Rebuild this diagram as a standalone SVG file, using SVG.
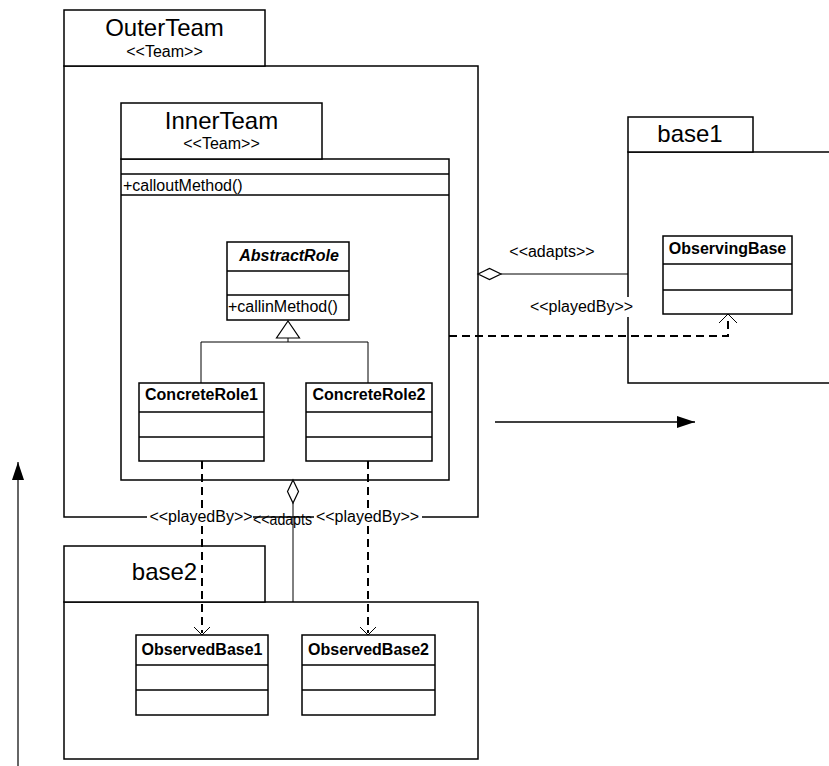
<svg xmlns="http://www.w3.org/2000/svg" width="829" height="766" viewBox="0 0 829 766">
  <style>
    .box { fill: #fff; stroke: #000; stroke-width: 1.5; }
    .sep { stroke: #000; stroke-width: 1.5; }
    .thin { fill: none; stroke: #000; stroke-width: 1; }
    .dash { fill: none; stroke: #000; stroke-width: 2; stroke-dasharray: 8 5; }
    .open { fill: none; stroke: #000; stroke-width: 1; }
    .bg { fill: #fff; }
    text { font-family: "Liberation Sans", Arial, sans-serif; fill: #000; }
    .title { font-size: 24px; text-anchor: middle; }
    .lbl { font-size: 16px; text-anchor: middle; }
    .op { font-size: 16px; }
    .cls { font-size: 16px; font-weight: bold; text-anchor: middle; }
    .abs { font-size: 16px; font-weight: bold; font-style: italic; text-anchor: middle; }
  </style>
  <defs>
    <marker id="solidHead" viewBox="0 0 18 12" refX="18" refY="6" markerWidth="18" markerHeight="12" markerUnits="userSpaceOnUse" orient="auto">
      <path d="M0,0 L18,6 L0,12 Z" fill="#000"/>
    </marker>
  </defs>

  <rect width="829" height="766" fill="#fff"/>

  <!-- OuterTeam package -->
  <g id="outerTeam">
    <rect class="box" x="64" y="66" width="414" height="451"/>
    <rect class="box" x="64" y="10" width="201" height="56"/>
    <text class="title" x="164.5" y="36">OuterTeam</text>
    <text class="lbl" x="164.5" y="57">&lt;&lt;Team&gt;&gt;</text>
  </g>

  <!-- InnerTeam package -->
  <g id="innerTeam">
    <rect class="box" x="121" y="159" width="328" height="321"/>
    <line class="sep" x1="121" y1="174" x2="449" y2="174"/>
    <line class="sep" x1="121" y1="195" x2="449" y2="195"/>
    <rect class="box" x="121" y="103" width="201" height="56"/>
    <text class="title" x="221.5" y="129">InnerTeam</text>
    <text class="lbl" x="221.5" y="149">&lt;&lt;Team&gt;&gt;</text>
    <text class="op" x="123" y="191">+calloutMethod()</text>
  </g>

  <!-- base1 package (continues past the right edge) -->
  <g id="base1">
    <rect class="box" x="628" y="152" width="230" height="231"/>
    <rect class="box" x="628" y="117" width="125" height="35"/>
    <text class="title" x="690" y="142">base1</text>
  </g>

  <!-- base2 package -->
  <g id="base2">
    <rect class="box" x="64" y="602" width="414" height="157"/>
    <rect class="box" x="64" y="546" width="201" height="56"/>
    <text class="title" x="164.5" y="580">base2</text>
  </g>

  <!-- classes -->
  <g id="abstractRole">
    <rect class="box" x="227" y="242" width="122" height="78"/>
    <line class="sep" x1="227" y1="271" x2="349" y2="271"/>
    <line class="sep" x1="227" y1="295" x2="349" y2="295"/>
    <text class="abs" x="289" y="261">AbstractRole</text>
    <text class="op" x="228" y="312">+callinMethod()</text>
  </g>

  <g id="concreteRole1">
    <rect class="box" x="139" y="383" width="125" height="78"/>
    <line class="sep" x1="139" y1="412" x2="264" y2="412"/>
    <line class="sep" x1="139" y1="437" x2="264" y2="437"/>
    <text class="cls" x="201.5" y="400">ConcreteRole1</text>
  </g>

  <g id="concreteRole2">
    <rect class="box" x="306" y="383" width="126" height="78"/>
    <line class="sep" x1="306" y1="412" x2="432" y2="412"/>
    <line class="sep" x1="306" y1="437" x2="432" y2="437"/>
    <text class="cls" x="369" y="400">ConcreteRole2</text>
  </g>

  <g id="observingBase">
    <rect class="box" x="663" y="236" width="129" height="78"/>
    <line class="sep" x1="663" y1="264" x2="792" y2="264"/>
    <line class="sep" x1="663" y1="290" x2="792" y2="290"/>
    <text class="cls" x="727.5" y="254">ObservingBase</text>
  </g>

  <g id="observedBase1">
    <rect class="box" x="136" y="635" width="132" height="80"/>
    <line class="sep" x1="136" y1="665" x2="268" y2="665"/>
    <line class="sep" x1="136" y1="690" x2="268" y2="690"/>
    <text class="cls" x="202" y="655">ObservedBase1</text>
  </g>

  <g id="observedBase2">
    <rect class="box" x="302" y="635" width="133" height="80"/>
    <line class="sep" x1="302" y1="665" x2="435" y2="665"/>
    <line class="sep" x1="302" y1="690" x2="435" y2="690"/>
    <text class="cls" x="368.5" y="655">ObservedBase2</text>
  </g>

  <!-- connectors -->
  <g id="connectors">
    <!-- generalization: ConcreteRole1/2 to AbstractRole -->
    <path class="thin" d="M201,383 V342 H368 V383"/>
    <line class="thin" x1="288" y1="342" x2="288" y2="338"/>
    <path d="M288,321 L299.5,338 L276.5,338 Z" fill="#fff" stroke="#000" stroke-width="1.2"/>

    <!-- adapts: OuterTeam to base1 -->
    <line class="thin" x1="501" y1="274" x2="628" y2="274"/>
    <path d="M478,274 L489.5,268.5 L501,274 L489.5,279.5 Z" fill="#fff" stroke="#000" stroke-width="1.2"/>
    <text class="lbl" x="552" y="257">&lt;&lt;adapts&gt;&gt;</text>

    <!-- playedBy: InnerTeam to ObservingBase -->
    <rect class="bg" x="527" y="297" width="108" height="20"/>
    <text class="lbl" x="581.5" y="312">&lt;&lt;playedBy&gt;&gt;</text>
    <path class="dash" d="M449,336 H728 V316"/>
    <path class="open" d="M719,323 L728,314 L737,323"/>

    <!-- adapts: InnerTeam to base2 -->
    <line class="thin" x1="293" y1="503" x2="293" y2="602"/>
    <path d="M293,480 L298.5,491.5 L293,503 L287.5,491.5 Z" fill="#fff" stroke="#000" stroke-width="1.2"/>
    <text class="op" x="253" y="525" textLength="59" lengthAdjust="spacingAndGlyphs">&lt;&lt;adapts</text>

    <!-- playedBy: ConcreteRole1 to ObservedBase1 -->
    <line class="dash" x1="202" y1="461" x2="202" y2="633"/>
    <path class="open" d="M194,627 L202,635 L210,627"/>

    <!-- playedBy: ConcreteRole2 to ObservedBase2 -->
    <line class="dash" x1="368" y1="461" x2="368" y2="633"/>
    <path class="open" d="M360,627 L368,635 L376,627"/>

    <!-- labels on the lower edge -->
    <rect class="bg" x="147" y="508" width="106" height="17"/>
    <text class="lbl" x="201" y="522">&lt;&lt;playedBy&gt;&gt;</text>
    <rect class="bg" x="314" y="508" width="108" height="17"/>
    <text class="lbl" x="367.5" y="522">&lt;&lt;playedBy&gt;&gt;</text>

    <!-- free arrows -->
    <line x1="495" y1="422" x2="695" y2="422" stroke="#000" stroke-width="1.5" marker-end="url(#solidHead)"/>
    <line x1="18" y1="766" x2="18" y2="462" stroke="#333" stroke-width="1.5" marker-end="url(#solidHead)"/>
  </g>
</svg>
